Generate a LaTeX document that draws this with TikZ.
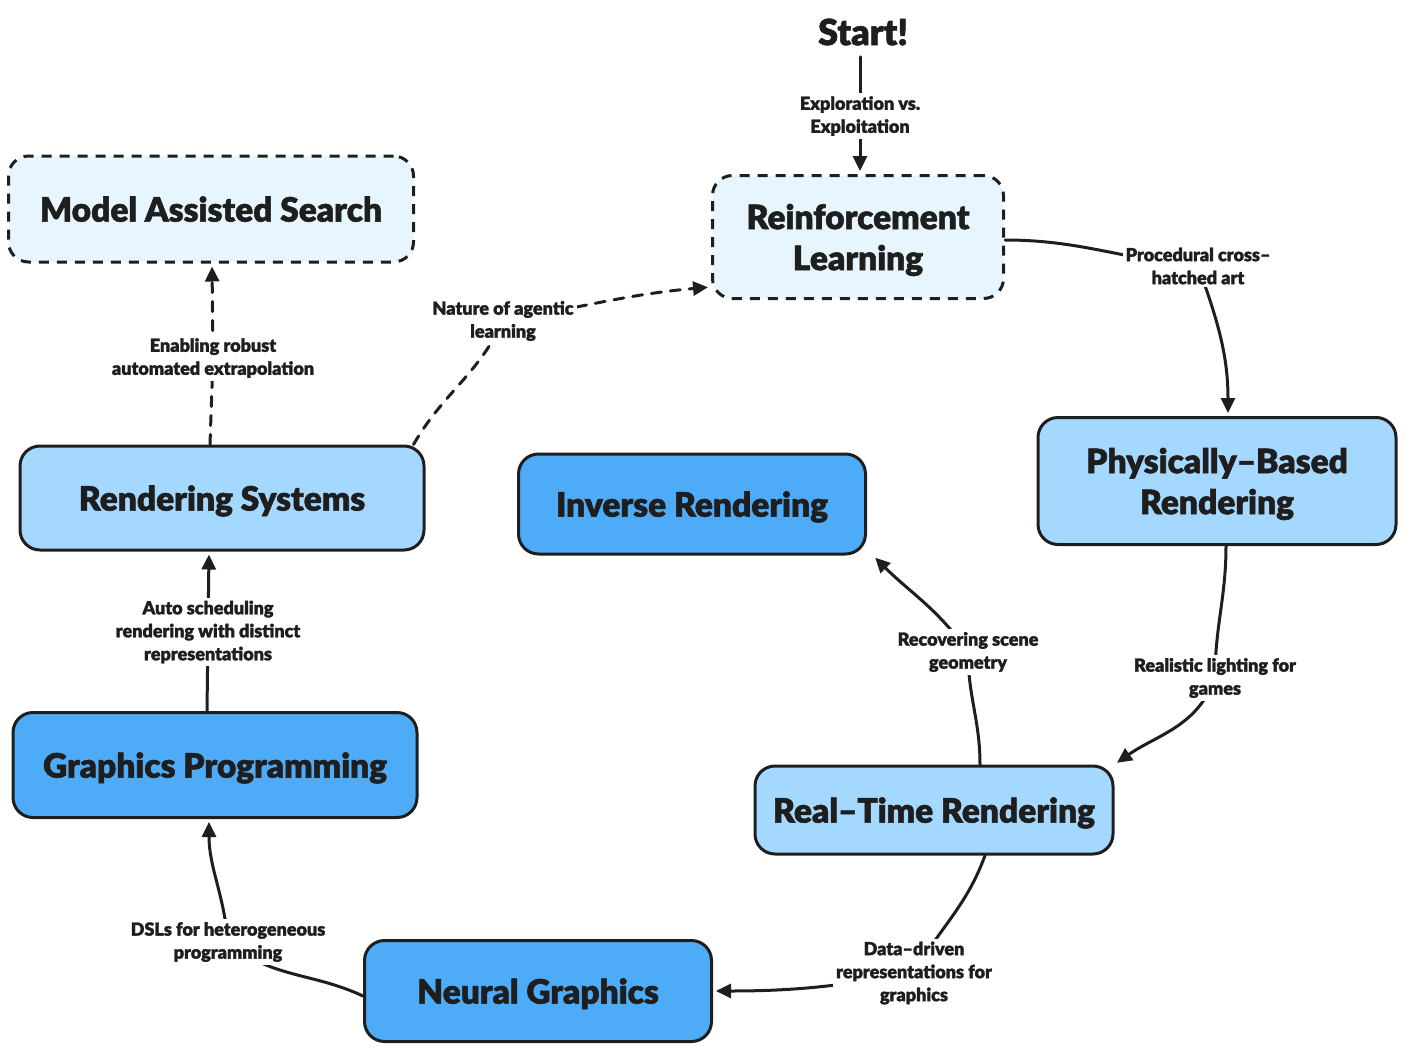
\documentclass[tikz,border=0pt]{standalone}
\usepackage{fontspec}
\setmainfont{Lato Black}[FakeBold=1.6]
\usetikzlibrary{arrows.meta}
\definecolor{ink}{HTML}{1E1E1E}
\definecolor{lightb}{HTML}{E7F5FF}
\definecolor{midb}{HTML}{A5D8FF}
\definecolor{darkb}{HTML}{4DABF7}
\pgfdeclarelayer{edges}
\pgfsetlayers{edges,main}
\tikzset{
  box/.style={draw=ink, line width=3pt, rounded corners=20pt, align=center, inner sep=0pt,
    text depth=0pt, font=\fontsize{33.5}{41}\selectfont, text=ink},
  dbox/.style={box, fill=lightb, dash pattern=on 10pt off 8pt},
  mbox/.style={box, fill=midb},
  kbox/.style={box, fill=darkb},
  lab/.style={fill=white, inner sep=3pt, align=center, font=\fontsize{18}{23}\selectfont, text=ink},
  edge/.style={draw=ink, line width=3pt, line cap=round},
  arr/.style={edge, -{Triangle[length=15pt,width=14pt]}, shorten >=3pt},
  dsh/.style={dash pattern=on 10pt off 9pt}
}
\begin{document}
\begin{tikzpicture}[x=1pt,y=-1pt]
\useasboundingbox (0,0) rectangle (1406,1052);
\node[text=ink, font=\fontsize{36}{40}\selectfont] (start) at (863,32) {Start!};
\node[dbox, minimum width=291pt, minimum height=123pt] (rl) at (858,237) {Reinforcement\\Learning};
\node[dbox, minimum width=405pt, minimum height=106pt] (mas) at (211,209) {Model Assisted Search};
\node[mbox, minimum width=404pt, minimum height=104pt] (rs) at (222,498) {Rendering Systems};
\node[kbox, minimum width=347pt, minimum height=100pt] (ir) at (692,504) {Inverse Rendering};
\node[mbox, minimum width=358pt, minimum height=127pt] (pbr) at (1217,481) {Physically--Based\\Rendering};
\node[kbox, minimum width=404pt, minimum height=105pt] (gp) at (215,765) {Graphics Programming};
\node[mbox, minimum width=358pt, minimum height=88pt] (rtr) at (934,810) {Real--Time Rendering};
\node[kbox, minimum width=347pt, minimum height=101pt] (ng) at (538,991) {Neural Graphics};

\node[lab] (l1) at (860,116) {Exploration vs.\\Exploitation};
\node[lab] (l2) at (1198,266) {Procedural cross--\\hatched art};
\node[lab] (l3) at (1215,678) {Realistic lighting for\\games};
\node[lab] (l4) at (968,652) {Recovering scene\\geometry};
\node[lab] (l5) at (914,973) {Data--driven\\representations for\\graphics};
\node[lab] (l6) at (228,942) {DSLs for heterogeneous\\programming};
\node[lab] (l7) at (208,632) {Auto scheduling\\rendering with distinct\\representations};
\node[lab] (l8) at (213,358) {Enabling robust\\automated extrapolation};
\node[lab] (l9) at (503,321) {Nature of agentic\\learning};

\begin{pgfonlayer}{edges}
\draw[arr] ([xshift=-3pt,yshift=-8pt]start.south) -- (l1.center) -- ([xshift=2pt]rl.north);
\draw[arr] ([yshift=-3pt]rl.east) to[out=0,in=175] (l2.center) to[out=-70,in=90] ([xshift=11pt]pbr.north);
\draw[arr] ([xshift=9pt]pbr.south) to[out=-90,in=90] (l3.center) to[out=-110,in=35] (rtr.north east);
\draw[arr] ([xshift=46pt]rtr.north) to[out=90,in=-90] (l4.center) to[out=125,in=-45] ([xshift=6pt]ir.south east);
\draw[arr] ([xshift=51pt]rtr.south) to[out=-110,in=60] (l5.center) to[out=190,in=0] (ng.east);
\draw[arr] ([yshift=-5pt]ng.west) to[out=155,in=-40] (l6.center) to[out=95,in=-90] ([xshift=-6pt]gp.south);
\draw[arr] ([xshift=-8pt]gp.north) -- (l7.center) -- ([xshift=-13pt]rs.south);
\draw[arr, dsh] ([xshift=-12pt]rs.north) -- (l8.center) -- ([xshift=1pt]mas.south);
\draw[arr, dsh] ([xshift=-12pt]rs.north east) to[out=60,in=-115] (l9.center) to[out=10,in=185] ([yshift=-50pt]rl.west);
\end{pgfonlayer}
\end{tikzpicture}
\end{document}
